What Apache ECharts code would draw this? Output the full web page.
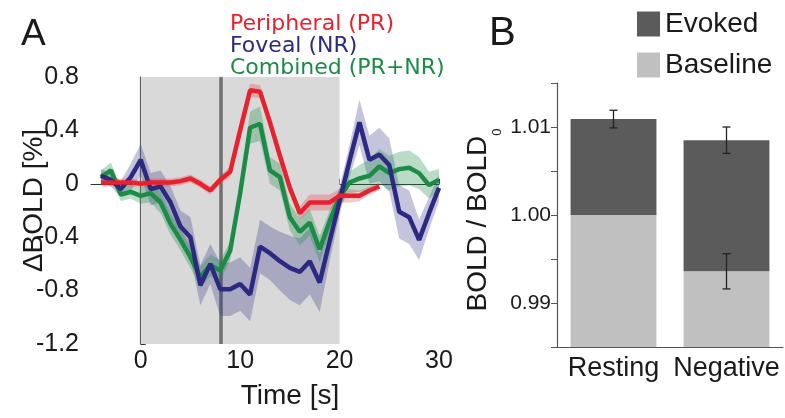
<!DOCTYPE html>
<html>
<head>
<meta charset="utf-8">
<script src="https://cdn.jsdelivr.net/npm/echarts@6/dist/echarts.min.js"></script>
<style>
html,body{margin:0;padding:0;background:#fff;}
#main{width:785px;height:418px;}
</style>
</head>
<body>
<div id="main"></div>
<script>
// ---- Panel A data ----
const timeA = [-4,-3,-2,-1,0,1,2,3,4,5,6,7,8,9,10,11,12,13,14,15,16,17,18,19,20,21,22,23,24,25,26,27,28,29,30];
const timeRed = [-4,-3,-2,-1,0,1,2,3,4,5,6,7,8,9,10,11,12,13,14,15,16,17,18,19,20,21,22,23,24];
const peripheral = [0.01,0.01,0.01,0.01,0.00,0.01,0.01,0.01,0.02,0.04,0.00,-0.05,0.03,0.09,0.40,0.70,0.69,0.46,0.21,-0.03,-0.22,-0.14,-0.14,-0.14,-0.09,-0.09,-0.09,-0.05,-0.02];
const peripheralErr = [0.03,0.03,0.03,0.03,0.03,0.03,0.03,0.03,0.03,0.03,0.03,0.03,0.03,0.04,0.05,0.05,0.05,0.05,0.04,0.04,0.05,0.06,0.06,0.06,0.05,0.05,0.04,0.03,0.03];
const foveal = [0.06,0.03,-0.04,0.05,0.18,-0.04,-0.02,-0.14,-0.32,-0.40,-0.76,-0.60,-0.79,-0.79,-0.75,-0.83,-0.47,-0.52,-0.58,-0.63,-0.66,-0.58,-0.74,-0.43,-0.13,0.17,0.46,0.18,0.22,0.14,-0.21,-0.25,-0.42,-0.22,-0.03];
const fovealErr = [0.05,0.05,0.06,0.10,0.12,0.12,0.12,0.12,0.12,0.15,0.15,0.15,0.20,0.20,0.20,0.20,0.20,0.20,0.22,0.24,0.25,0.25,0.22,0.15,0.10,0.12,0.17,0.18,0.20,0.20,0.20,0.20,0.15,0.12,0.10];
const combined = [0.05,0.10,-0.08,-0.06,-0.09,-0.07,-0.14,-0.30,-0.42,-0.55,-0.70,-0.61,-0.65,-0.50,-0.07,0.42,0.45,0.10,0.05,-0.25,-0.36,-0.29,-0.49,-0.28,-0.10,0.01,0.04,0.06,0.13,0.08,0.11,0.12,0.08,-0.01,0.03];
const combinedErr = [0.05,0.06,0.05,0.05,0.06,0.07,0.08,0.08,0.08,0.08,0.08,0.08,0.08,0.07,0.07,0.12,0.13,0.10,0.10,0.10,0.10,0.10,0.10,0.08,0.07,0.08,0.10,0.12,0.13,0.13,0.13,0.13,0.12,0.10,0.08];
const yTicksA = [-1.2,-0.8,-0.4,0,0.4,0.8];
const xTicksA = [0,10,20,30];
const stimWindow = [0,20];
const markerTime = 8;

// ---- Panel B data ----
const conditions = ['Resting','Negative'];
const baselineVals = [1.0000, 0.9936];
const totalVals = [1.0109, 1.0085];
const totalErr = [0.0010, 0.0015];
const baselineErr = [null, 0.0020];

const RED = '#e8212f', BLUE = '#2b2a80', GREEN = '#1b8b45';
const TXT = '#1a1a1a';
const NARROW = '"Liberation Sans Narrow","Liberation Sans",Arial,sans-serif';
const SANS = '"Liberation Sans",Arial,sans-serif';

function pairs(t, v) { return t.map((x, i) => [x, v[i]]); }

function bandSeries(name, t, v, e, color, opacity) {
  return {
    name: name, type: 'custom', xAxisIndex: 0, yAxisIndex: 0, silent: true, z: 2, clip: true,
    data: t.map((x, i) => [x, v[i] - e[i], v[i] + e[i]]),
    encode: { x: 0, y: [1, 2] },
    renderItem: function (params, api) {
      if (params.dataIndex !== 0) return null;
      const upper = t.map((x, i) => api.coord([x, v[i] + e[i]]));
      const lower = t.map((x, i) => api.coord([x, v[i] - e[i]])).reverse();
      return {
        type: 'polygon',
        shape: { points: upper.concat(lower) },
        style: { fill: color, opacity: opacity }
      };
    }
  };
}

const chart = echarts.init(document.getElementById('main'), null, { renderer: 'canvas' });

const errData = [];
conditions.forEach((c, i) => {
  errData.push([i, totalVals[i], totalErr[i]]);
  if (baselineErr[i] !== null) errData.push([i, baselineVals[i], baselineErr[i]]);
});

const option = {
  animation: false,
  backgroundColor: '#fff',
  title: [
    { text: 'A', left: 21, top: 16, padding: 0, textStyle: { fontFamily: SANS, fontSize: 37, fontWeight: 'normal', color: TXT } },
    { text: 'B', left: 489, top: 14, padding: 0, textStyle: { fontFamily: SANS, fontSize: 40, fontWeight: 'normal', color: TXT } }
  ],
  legend: [
    {
      orient: 'vertical', left: 225, top: 13, padding: 0, itemGap: 0,
      icon: 'none', itemWidth: 0, itemHeight: 10, selectedMode: false,
      textStyle: { fontFamily: '"DejaVu Sans",sans-serif', fontSize: 22, lineHeight: 22 },
      data: [
        { name: 'Peripheral (PR)', textStyle: { color: RED } },
        { name: 'Foveal (NR)', textStyle: { color: BLUE } },
        { name: 'Combined (PR+NR)', textStyle: { color: GREEN } }
      ]
    },
    {
      orient: 'vertical', left: 637, top: 10, padding: 0, itemGap: 13,
      icon: 'rect', itemWidth: 23, itemHeight: 25, selectedMode: false,
      textStyle: { fontFamily: SANS, fontSize: 28, color: TXT, lineHeight: 25 },
      data: ['Evoked', 'Baseline']
    }
  ],
  grid: [
    { left: 91, right: 346, top: 77, bottom: 74 },
    { left: 557, right: 2, top: 83, bottom: 71 }
  ],
  xAxis: [
    {
      gridIndex: 0, type: 'value', min: -5, max: 30,
      name: 'Time [s]', nameLocation: 'middle', nameGap: 38, nameMoveOverlap: false,
      nameTextStyle: { fontFamily: NARROW, fontSize: 28, color: TXT, padding: [0, 0, 0, 50] },
      axisLine: { lineStyle: { color: '#333', width: 1.2 } },
      axisTick: { inside: true, length: 5, customValues: xTicksA, lineStyle: { color: '#333' } },
      axisLabel: { customValues: xTicksA, margin: 5, fontFamily: NARROW, fontSize: 25, color: TXT },
      splitLine: { show: false }
    },
    {
      gridIndex: 1, type: 'category', data: conditions,
      axisLine: { lineStyle: { color: '#555', width: 1.2 } },
      axisTick: { show: false },
      axisLabel: { interval: 0, hideOverlap: false, margin: 8, fontFamily: SANS, fontSize: 27, color: TXT },
      splitLine: { show: false }
    }
  ],
  yAxis: [
    {
      gridIndex: 0, type: 'value', min: yTicksA[0], max: yTicksA[yTicksA.length - 1], interval: 0.4,
      name: 'ΔBOLD [%]', nameLocation: 'middle', nameGap: 43, nameRotate: 90, nameMoveOverlap: false,
      nameTextStyle: { fontFamily: SANS, fontSize: 28, color: TXT, padding: [0, 0, 0, 20] },
      axisLine: { show: true, lineStyle: { color: '#333', width: 1.2 } },
      axisTick: { show: true, inside: true, length: 5, lineStyle: { color: '#333' } },
      minorTick: { show: true, splitNumber: 2, length: 3, lineStyle: { color: '#333' } },
      axisLabel: { margin: 12, fontFamily: NARROW, fontSize: 25, color: TXT },
      splitLine: { show: false }
    },
    {
      gridIndex: 1, type: 'value', min: 0.985, max: 1.015, interval: 0.005,
      name: '{a|BOLD / BOLD}{b|0}', nameLocation: 'middle', nameGap: 53, nameRotate: 90, nameMoveOverlap: false,
      nameTextStyle: {
        color: TXT, padding: [0, 10, 0, 0],
        rich: {
          a: { fontFamily: SANS, fontSize: 28, lineHeight: 52, color: TXT },
          b: { fontFamily: SANS, fontSize: 13, lineHeight: 13, verticalAlign: 'bottom', color: TXT }
        }
      },
      axisLine: { show: true, lineStyle: { color: '#555', width: 1.2 } },
      axisTick: { show: true, inside: false, length: 6, lineStyle: { color: '#555' } },
      axisLabel: {
        margin: 6, fontFamily: SANS, fontSize: 21, color: TXT,
        formatter: function (v) {
          const r = Math.round(v * 1000);
          return (r % 10 === 0) ? (r / 1000).toFixed(2) : '';
        }
      },
      splitLine: { show: false }
    }
  ],
  series: [
    {
      name: 'stim', type: 'line', xAxisIndex: 0, yAxisIndex: 0, data: pairs(timeA, foveal),
      symbol: 'none', lineStyle: { opacity: 0 }, silent: true, z: 1,
      markArea: {
        silent: true, z: 1,
        itemStyle: { color: '#d9d9d9' },
        data: [[{ xAxis: stimWindow[0] }, { xAxis: stimWindow[1] }]]
      },
      markLine: {
        silent: true, z: 2, symbol: 'none', label: { show: false },
        lineStyle: { color: '#707070', width: 3.5, type: 'solid' },
        data: [{ xAxis: markerTime }]
      }
    },
    bandSeries('fovBand', timeA, foveal, fovealErr, BLUE, 0.28),
    bandSeries('combBand', timeA, combined, combinedErr, GREEN, 0.3),
    bandSeries('periBand', timeRed, peripheral, peripheralErr, RED, 0.25),
    { name: 'Combined (PR+NR)', type: 'line', xAxisIndex: 0, yAxisIndex: 0, data: pairs(timeA, combined),
      symbol: 'none', lineStyle: { color: GREEN, width: 4.5 }, itemStyle: { color: GREEN }, z: 3 },
    { name: 'Foveal (NR)', type: 'line', xAxisIndex: 0, yAxisIndex: 0, data: pairs(timeA, foveal),
      symbol: 'none', lineStyle: { color: BLUE, width: 4.5 }, itemStyle: { color: BLUE }, z: 3 },
    { name: 'Peripheral (PR)', type: 'line', xAxisIndex: 0, yAxisIndex: 0, data: pairs(timeRed, peripheral),
      symbol: 'none', lineStyle: { color: RED, width: 4.5 }, itemStyle: { color: RED }, z: 3 },
    { name: 'Baseline', type: 'bar', xAxisIndex: 1, yAxisIndex: 1, stack: 'bold', data: baselineVals,
      barWidth: '76%', clip: true, itemStyle: { color: '#c0c0c0' } },
    { name: 'Evoked', type: 'bar', xAxisIndex: 1, yAxisIndex: 1, stack: 'bold',
      data: totalVals.map((v, i) => +(v - baselineVals[i]).toFixed(5)),
      barWidth: '76%', clip: true, itemStyle: { color: '#5b5b5b' } },
    {
      name: 'err', type: 'custom', xAxisIndex: 1, yAxisIndex: 1, data: errData, z: 5, silent: true,
      renderItem: function (params, api) {
        const x = api.value(0), y = api.value(1), e = api.value(2);
        const p1 = api.coord([x, y + e]);
        const p2 = api.coord([x, y - e]);
        const cw = 4;
        const st = { stroke: '#222', lineWidth: 1.3 };
        return {
          type: 'group',
          children: [
            { type: 'line', shape: { x1: p1[0], y1: p1[1], x2: p2[0], y2: p2[1] }, style: st },
            { type: 'line', shape: { x1: p1[0] - cw, y1: p1[1], x2: p1[0] + cw, y2: p1[1] }, style: st },
            { type: 'line', shape: { x1: p2[0] - cw, y1: p2[1], x2: p2[0] + cw, y2: p2[1] }, style: st }
          ]
        };
      }
    }
  ]
};
chart.setOption(option);
</script>
</body>
</html>
